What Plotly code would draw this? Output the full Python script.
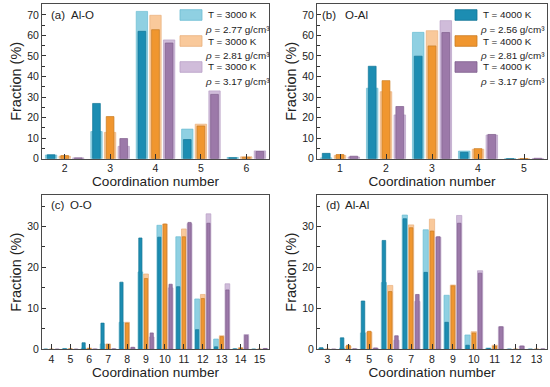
import plotly.graph_objects as go

W, H = 550, 387

# ---------------- data ----------------
panel_labels = ["(a)", "(b)", "(c)", "(d)"]
panel_pairs = ["Al-O", "O-Al", "O-O", "Al-Al"]

cn_a = [2, 3, 4, 5, 6]
a_blue_3000 = [1.8, 13.2, 71.7, 14.4, 0.6]
a_orange_3000 = [1.2, 12.8, 69.8, 16.8, 0.9]
a_purple_3000 = [0.4, 6.0, 57.8, 33.0, 3.8]
a_blue_4000 = [1.9, 26.9, 62.0, 9.3, 0.5]
a_orange_4000 = [1.5, 20.5, 62.8, 15.9, 0.7]
a_purple_4000 = [0.4, 9.8, 56.3, 31.3, 3.5]

cn_b = [1, 2, 3, 4, 5]
b_blue_3000 = [0.4, 34.3, 61.5, 3.7, 0.0]
b_orange_3000 = [1.6, 32.6, 62.3, 4.6, 0.0]
b_purple_3000 = [0.8, 21.3, 67.2, 11.5, 0.1]
b_blue_4000 = [2.6, 45.0, 49.9, 3.1, 0.0]
b_orange_4000 = [2.0, 38.0, 54.9, 4.9, 0.1]
b_purple_4000 = [1.2, 25.4, 61.4, 11.8, 0.2]

cn_c = [4, 5, 6, 7, 8, 9, 10, 11, 12, 13, 14, 15]
c_blue_3000 = [0, 0.2, 0.3, 1.3, 6.6, 18.9, 30.3, 27.5, 12.3, 2.5, 0.1, 0]
c_orange_3000 = [0, 0.1, 0.3, 1.3, 6.6, 18.4, 30.6, 29.4, 13.4, 3.3, 0.4, 0]
c_purple_3000 = [0, 0, 0.1, 0.1, 0.4, 3.0, 15.0, 30.7, 33.1, 16.0, 3.6, 0.2]
c_blue_4000 = [0, 0.1, 1.6, 6.4, 16.4, 27.2, 27.4, 15.3, 4.8, 0.6, 0.1, 0]
c_orange_4000 = [0, 0.1, 0.2, 1.2, 6.4, 17.3, 30.6, 27.5, 12.4, 3.1, 0.3, 0]
c_purple_4000 = [0, 0, 0, 0.1, 0.5, 4.0, 15.9, 31.0, 30.8, 14.5, 3.4, 0.2]

cn_d = [3, 4, 5, 6, 7, 8, 9, 10, 11, 12, 13]
d_blue_3000 = [0.2, 0.3, 4.0, 16.3, 32.8, 29.2, 13.2, 3.5, 0.3, 0, 0]
d_orange_3000 = [0, 0.8, 4.2, 15.6, 30.4, 31.8, 15.7, 4.3, 1.0, 0, 0]
d_purple_3000 = [0, 0.1, 0.3, 2.2, 11.7, 27.4, 32.7, 19.2, 5.5, 0.8, 0]
d_blue_4000 = [0.4, 2.8, 11.8, 26.6, 31.9, 18.8, 6.6, 1.0, 0.2, 0, 0]
d_orange_4000 = [0, 1.0, 4.4, 14.1, 29.7, 28.9, 15.5, 4.0, 0.8, 0, 0]
d_purple_4000 = [0, 0.1, 0.3, 3.3, 13.4, 27.5, 30.8, 18.6, 5.5, 0.8, 0.1]

temps_3000 = ["T = 3000 K", "T = 3000 K", "T = 3000 K"]
dens_3000 = ["2.77", "2.81", "3.17"]
temps_4000 = ["T = 4000 K", "T = 4000 K", "T = 4000 K"]
dens_4000 = ["2.56", "2.81", "3.17"]

# ---------------- style ----------------
FONT = "Liberation Sans, Arial, sans-serif"
TXT = "#222222"
AX = "#4a4a4a"
light_fill = ["#8fd0e2", "#f9c99b", "#d0bcda"]
light_line = ["#6cbdd3", "#e9b07c", "#b9a0c6"]
dark_fill = ["#1c8db2", "#f0962f", "#9c79a9"]
dark_line = ["#137596", "#c97b22", "#7f5e8d"]
offsets = [-0.3, 0.0, 0.3]
w_light, w_dark = 0.25, 0.17

panels = [
    (cn_a, [a_blue_3000, a_orange_3000, a_purple_3000], [a_blue_4000, a_orange_4000, a_purple_4000]),
    (cn_b, [b_blue_3000, b_orange_3000, b_purple_3000], [b_blue_4000, b_orange_4000, b_purple_4000]),
    (cn_c, [c_blue_3000, c_orange_3000, c_purple_3000], [c_blue_4000, c_orange_4000, c_purple_4000]),
    (cn_d, [d_blue_3000, d_orange_3000, d_purple_3000], [d_blue_4000, d_orange_4000, d_purple_4000]),
]
xranges = [[1.5, 6.5], [0.5, 5.5], [3.5, 15.5], [2.5, 13.5]]
yranges = [[0, 75.3], [0, 75.3], [0, 37.7], [0, 37.7]]


def px_x(p):
    return p / W


def px_y(p):
    return 1 - p / H


xdom = [[px_x(42), px_x(269)], [px_x(317), px_x(547)], [px_x(42), px_x(269)], [px_x(317), px_x(547)]]
ydom = [[px_y(158.7), px_y(4)], [px_y(158.7), px_y(4)], [px_y(349.3), px_y(195)], [px_y(349.3), px_y(195)]]

fig = go.Figure()
for i, (cn, lights, darks) in enumerate(panels):
    xa = "x" if i == 0 else f"x{i+1}"
    ya = "y" if i == 0 else f"y{i+1}"
    for k in range(3):
        fig.add_trace(go.Bar(
            x=cn, y=lights[k], offset=offsets[k] - w_light / 2, width=w_light,
            marker=dict(color=light_fill[k], line=dict(color=light_line[k], width=0.7)),
            showlegend=False, xaxis=xa, yaxis=ya, hoverinfo="x+y"))
    for k in range(3):
        fig.add_trace(go.Bar(
            x=cn, y=darks[k], offset=offsets[k] - w_dark / 2, width=w_dark,
            marker=dict(color=dark_fill[k], line=dict(color=dark_line[k], width=0.7)),
            showlegend=False, xaxis=xa, yaxis=ya, hoverinfo="x+y"))

layout = dict(
    width=W, height=H, margin=dict(l=0, r=0, t=0, b=0),
    paper_bgcolor="white", plot_bgcolor="white",
    barmode="overlay", showlegend=False,
    font=dict(family=FONT, color=TXT, size=10.5),
)
for i in range(4):
    sx = "" if i == 0 else str(i + 1)
    layout["xaxis" + sx] = dict(
        domain=xdom[i], anchor="y" + sx, range=xranges[i], dtick=1, tick0=0,
        showline=True, linecolor=AX, linewidth=1, mirror=True,
        ticks="inside", ticklen=5, tickwidth=1, tickcolor="#333333",
        showgrid=False, zeroline=False, automargin=False,
        tickfont=dict(size=10.5, color=TXT),
        title=dict(text="Coordination number", font=dict(size=13.6, color=TXT), standoff=3),
    )
    layout["yaxis" + sx] = dict(
        domain=ydom[i], anchor="x" + sx, range=yranges[i], dtick=10, tick0=0,
        showline=True, linecolor=AX, linewidth=1, mirror=True,
        ticks="inside", ticklen=4, tickwidth=1, tickcolor="#333333",
        minor=dict(dtick=5, ticks="inside", ticklen=2.5, tickcolor="#333333"),
        showgrid=False, zeroline=False, automargin=False,
        tickfont=dict(size=10.5, color=TXT),
        title=dict(text="Fraction (%)", font=dict(size=14.5, color=TXT), standoff=2),
    )
fig.update_layout(**layout)

# panel labels
ann = []
lab_pos = [(49, 69, 15), (320, 343, 15), (49, 68, 205), (324, 343, 205)]
for i in range(4):
    lx, px2, ly = lab_pos[i]
    ann.append(dict(text=panel_labels[i], x=px_x(lx), y=px_y(ly), xref="paper", yref="paper",
                    xanchor="left", yanchor="middle", showarrow=False, font=dict(size=11.5, color=TXT)))
    ann.append(dict(text=panel_pairs[i], x=px_x(px2), y=px_y(ly), xref="paper", yref="paper",
                    xanchor="left", yanchor="middle", showarrow=False, font=dict(size=11.5, color=TXT)))

# legends (manual, built from data lists)
shapes = []


def add_legend(x0, temps, dens, fills, lines):
    for k in range(3):
        yc = 15 + 26 * k
        shapes.append(dict(type="rect", xref="paper", yref="paper",
                           x0=px_x(x0), x1=px_x(x0 + 22), y0=px_y(yc + 5.3), y1=px_y(yc - 5.3),
                           fillcolor=fills[k], line=dict(color=lines[k], width=0.8)))
        ann.append(dict(text=temps[k], x=px_x(x0 + 25.5), y=px_y(yc), xref="paper", yref="paper",
                        xanchor="left", yanchor="middle", showarrow=False, font=dict(size=9.9, color=TXT)))
        ann.append(dict(text=f"<i>ρ</i> = {dens[k]} g/cm³", x=px_x(x0 + 23), y=px_y(yc + 14),
                        xref="paper", yref="paper", xanchor="left", yanchor="middle", showarrow=False,
                        font=dict(size=9.9, color=TXT)))


add_legend(180, temps_3000, dens_3000, light_fill, light_line)
add_legend(455, temps_4000, dens_4000, dark_fill, dark_line)

fig.update_layout(annotations=ann, shapes=shapes)
fig.write_html("out.html", config={"displayModeBar": False},
               post_script="document.body.style.margin='0';document.body.style.overflow='hidden';")
